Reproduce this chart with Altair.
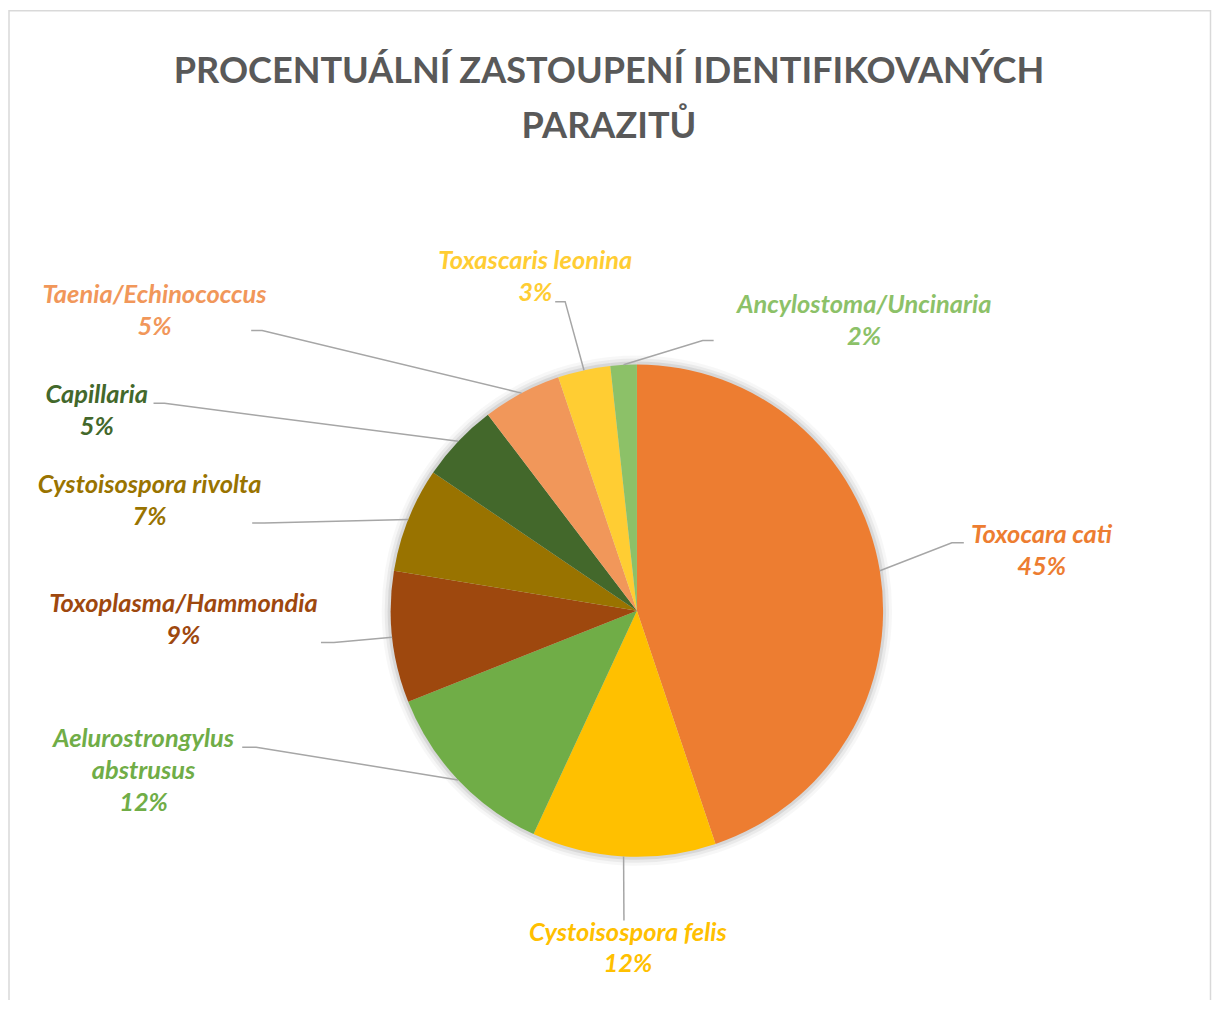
import math
import altair as alt
import pandas as pd

# ---------------- data ----------------
NAMES = [
    "Toxocara cati",
    "Cystoisospora felis",
    "Aelurostrongylus abstrusus",
    "Toxoplasma/Hammondia",
    "Cystoisospora rivolta",
    "Capillaria",
    "Taenia/Echinococcus",
    "Toxascaris leonina",
    "Ancylostoma/Uncinaria",
]
COUNTS = [26, 7, 7, 5, 4, 3, 3, 2, 1]
COLORS = ["#ED7D31", "#FFC000", "#70AD47", "#9E480E", "#997300",
          "#43682B", "#F1975A", "#FFCD33", "#8CC168"]
LABEL_LINES = [
    ["Toxocara cati"],
    ["Cystoisospora felis"],
    ["Aelurostrongylus", "abstrusus"],
    ["Toxoplasma/Hammondia"],
    ["Cystoisospora rivolta"],
    ["Capillaria"],
    ["Taenia/Echinococcus"],
    ["Toxascaris leonina"],
    ["Ancylostoma/Uncinaria"],
]
TITLE_LINES = ["PROCENTUÁLNÍ ZASTOUPENÍ IDENTIFIKOVANÝCH", "PARAZITŮ"]

# ---------------- layout (page pixels) ----------------
CX, CY = 639, 611          # pie centre
R = 247                    # pie radius
LABEL_ANCHOR = [(1045, 543), (630, 942), (144, 748), (184, 612), (150, 493),
                (97, 403), (155, 302), (537, 268), (867, 312)]
LEADER_POINTS = [
    [(955, 543), (967, 543)],
    [(626, 922)],
    [(257, 748), (243, 748)],
    [(335, 643), (322, 643)],
    [(265, 523), (253, 523)],
    [(165, 403), (154, 403)],
    [(263, 330), (252, 330)],
    [(567, 301), (557, 301)],
    [(705, 340), (716, 340)],
]
TITLE_ANCHOR = (611, 82)

W, H = 862, 758
PAD_L, PAD_T, PAD_R, PAD_B = 200, 224, 146, 10
XS = alt.Scale(domain=[-W / 2, W / 2], nice=False, zero=False)
YS = alt.Scale(domain=[-H / 2, H / 2], nice=False, zero=False, reverse=True)

total = sum(COUNTS)
pie_df = pd.DataFrame({"name": NAMES, "count": COUNTS, "idx": list(range(len(NAMES)))})

# labels
lab_rows = []
for i, n in enumerate(NAMES):
    pct = f"{round(COUNTS[i] / total * 100)}%"
    lab_rows.append({
        "name": n,
        "txt": "\n".join(LABEL_LINES[i] + [pct]),
        "x": LABEL_ANCHOR[i][0] - CX,
        "y": LABEL_ANCHOR[i][1] - CY,
    })
lab_df = pd.DataFrame(lab_rows)

# leader lines: start at the slice's mid-angle on the rim
line_rows = []
cum = 0
for i, n in enumerate(NAMES):
    mid = (cum + COUNTS[i] / 2) / total * 2 * math.pi
    cum += COUNTS[i]
    pts = [(R * math.sin(mid), -R * math.cos(mid))] + [
        (px - CX, py - CY) for px, py in LEADER_POINTS[i]]
    for k, (x, y) in enumerate(pts):
        line_rows.append({"name": n, "seq": k, "x": x, "y": y})
line_df = pd.DataFrame(line_rows)

title_df = pd.DataFrame({"txt": ["\n".join(TITLE_LINES)],
                         "x": [TITLE_ANCHOR[0] - CX], "y": [TITLE_ANCHOR[1] - CY]})

color = alt.Color("name:N", scale=alt.Scale(domain=NAMES, range=COLORS), legend=None)

# soft shadow around the pie
shadows = [
    alt.Chart(pie_df).mark_arc(radius=r, color="#000000", opacity=op, stroke=None)
    .encode(theta=alt.Theta("count:Q", stack=True), order=alt.Order("idx:Q"))
    for r, op in [(256, 0.03), (253, 0.05), (250, 0.08)]
]

pie = alt.Chart(pie_df).mark_arc(radius=R, stroke=None).encode(
    theta=alt.Theta("count:Q", stack=True),
    color=color,
    order=alt.Order("idx:Q"),
)

leaders = alt.Chart(line_df).mark_line(color="#A6A6A6", strokeWidth=1.5).encode(
    x=alt.X("x:Q", scale=XS, axis=None),
    y=alt.Y("y:Q", scale=YS, axis=None),
    detail="name:N",
    order="seq:Q",
)

labels = alt.Chart(lab_df).mark_text(
    font="Lato", fontSize=25.5, fontWeight="bold", fontStyle="italic",
    align="center", baseline="alphabetic", lineBreak="\n", lineHeight=32,
).encode(
    x=alt.X("x:Q", scale=XS, axis=None),
    y=alt.Y("y:Q", scale=YS, axis=None),
    text="txt:N",
    color=color,
)

title = alt.Chart(title_df).mark_text(
    font="Lato", fontSize=36.2, fontWeight="bold", color="#595959",
    align="center", baseline="alphabetic", lineBreak="\n", lineHeight=55,
).encode(
    x=alt.X("x:Q", scale=XS, axis=None),
    y=alt.Y("y:Q", scale=YS, axis=None),
    text="txt:N",
)

frame = alt.Chart(pd.DataFrame({"k": [0]})).mark_rect(
    fill=None, stroke="#D9D9D9", strokeWidth=1.5
).encode(
    x=alt.value(9 - (8 + PAD_L)),
    x2=alt.value(1214.5 - (8 + PAD_L)),
    y=alt.value(9 - (8 + PAD_T)),
    y2=alt.value(1200),
)

chart = alt.layer(frame, *shadows, pie, leaders, labels, title).properties(
    width=W, height=H,
    padding={"left": PAD_L, "top": PAD_T, "right": PAD_R, "bottom": PAD_B},
    autosize=alt.AutoSizeParams(type="none"),
    background="white",
).configure_view(stroke=None)

chart.save("out.html", embed_options={"renderer": "svg", "actions": False})
